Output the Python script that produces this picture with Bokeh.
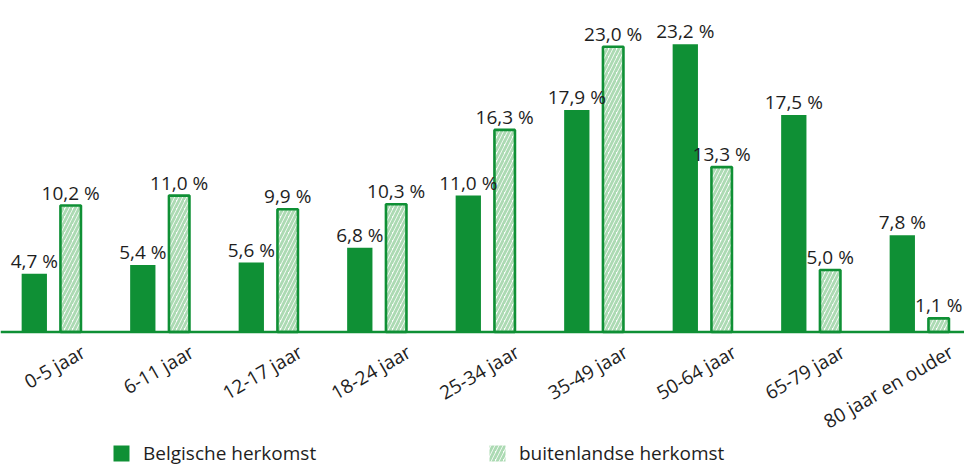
import numpy as np
from bokeh.plotting import figure
from bokeh.models import ColumnDataSource, Range1d, Span, Legend, LegendItem
from bokeh.core.properties import value
from bokeh.embed import file_html
from bokeh.resources import INLINE

categories = ["0-5 jaar", "6-11 jaar", "12-17 jaar", "18-24 jaar", "25-34 jaar",
              "35-49 jaar", "50-64 jaar", "65-79 jaar", "80 jaar en ouder"]
belgisch = [4.7, 5.4, 5.6, 6.8, 11.0, 17.9, 23.2, 17.5, 7.8]
buitenlands = [10.2, 11.0, 9.9, 10.3, 16.3, 23.0, 13.3, 5.0, 1.1]
series_names = ["Belgische herkomst", "buitenlandse herkomst"]

def fmt(v):
    return f"{v:.1f}".replace(".", ",") + " %"

GREEN = "#0f9035"
HATCH = "#acdab3"
TXT = "#1e1e1e"
FONT = "Open Sans"
FS = "19px"

W, H = 964, 466
pitch = 108.5
x0 = 52 / pitch
ppu = 12.4
base_px = 331.5

idx = np.arange(len(categories))
off = 18.2 / pitch

src_b = ColumnDataSource(dict(x=idx - off, top=belgisch, lab=[fmt(v) for v in belgisch]))
src_f = ColumnDataSource(dict(x=idx + off, top=buitenlands, lab=[fmt(v) for v in buitenlands]))
src_c = ColumnDataSource(dict(x=idx, y=np.zeros(len(idx)), lab=categories))

p = figure(width=W, height=H, output_backend="svg", toolbar_location=None,
           x_range=Range1d(-x0, -x0 + W / pitch),
           y_range=Range1d(-(H - base_px) / ppu, base_px / ppu),
           min_border=0, min_border_left=0, min_border_right=0,
           min_border_top=0, min_border_bottom=0)
p.axis.visible = False
p.grid.visible = False
p.outline_line_color = None
p.background_fill_color = "white"

r_b = p.vbar(x="x", top="top", bottom=0, width=25.3 / pitch, source=src_b,
             fill_color=GREEN, line_color=None)
r_f = p.vbar(x="x", top="top", bottom=0, width=20.5 / pitch, source=src_f,
             fill_color="white", line_color=GREEN, line_width=2.6,
             hatch_pattern="right_diagonal_line", hatch_color=HATCH,
             hatch_weight=2.8, hatch_scale=8)

# legend proxy for the hatched series (zero-height, no border, as in the reference legend)
r_f_leg = p.vbar(x=[float(idx[0])], top=[0.0], bottom=0, width=0.01,
                 fill_color="white", line_color=None,
                 hatch_pattern="right_diagonal_line", hatch_color=HATCH,
                 hatch_weight=2.8, hatch_scale=8)

p.add_layout(Span(location=0, dimension="width", line_color=GREEN, line_width=2.5))

for s in (src_b, src_f):
    p.text(x="x", y="top", text="lab", source=s, text_align="center",
           text_baseline="alphabetic", y_offset=-13, text_font=value(FONT),
           text_font_size=FS, text_color=TXT)

p.text(x="x", y="y", text="lab", source=src_c, angle=np.pi / 6,
       text_align="right", text_baseline="middle", x_offset=31, y_offset=18,
       text_font=value(FONT), text_font_size=FS, text_color=TXT)

for r, name, loc in ((r_b, series_names[0], (111, 0)), (r_f_leg, series_names[1], (487, 0))):
    lg = Legend(items=[LegendItem(label=name, renderers=[r])], location=loc,
                orientation="horizontal", glyph_width=20, glyph_height=20,
                label_standoff=12, padding=0, margin=0, spacing=0,
                border_line_color=None, background_fill_alpha=0,
                label_text_font=FONT, label_text_font_size=FS,
                label_text_color=TXT)
    p.add_layout(lg)

open("out.html", "w").write(file_html(p, INLINE))
